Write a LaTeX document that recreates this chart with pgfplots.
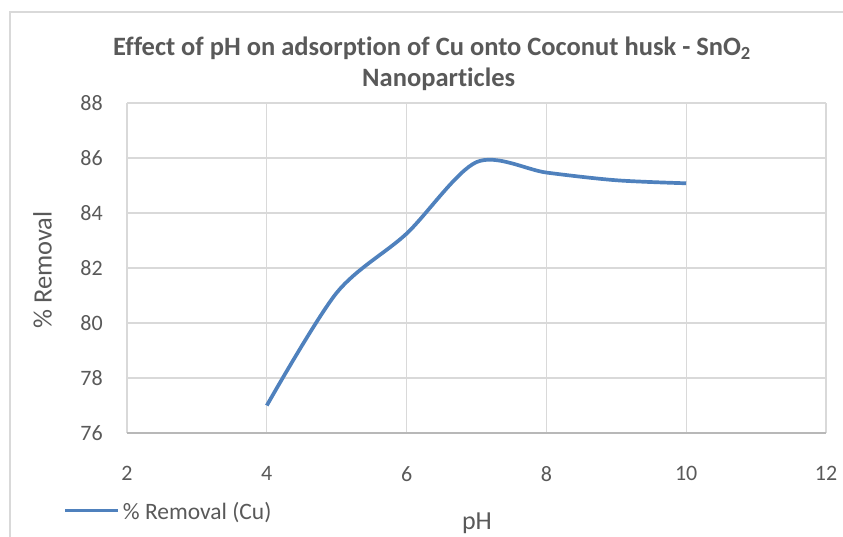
\documentclass[border=0pt]{standalone}
\usepackage{pgfplots}
\pgfplotsset{compat=1.18}
\usepackage{fontspec}
\setmainfont{Carlito}[Ligatures={NoCommon}]
\definecolor{exblue}{HTML}{4F81BD}
\definecolor{gridgray}{HTML}{D9D9D9}
\definecolor{txtgray}{HTML}{595959}
\begin{document}
\begin{tikzpicture}[x=1pt,y=1pt]
\path[use as bounding box] (0,0) rectangle (843,537);
\draw[gridgray, line width=2pt] (9.5,-20) -- (9.5,525) -- (870,525);
\begin{axis}[
  at={(127pt,104pt)}, anchor=south west,
  scale only axis, width=699pt, height=330pt,
  xmin=2, xmax=12, ymin=76, ymax=88,
  xtick={2,4,...,12}, ytick={76,78,...,88},
  grid=major,
  major grid style={gridgray, line width=1.3pt},
  axis line style={draw=none},
  axis x line*=bottom,
  axis y line*=left,
  x axis line style={draw=gridgray!85!black, line width=1.3pt},
  major tick length=0pt,
  tick label style={font=\fontsize{22}{24}\selectfont, text=txtgray, inner sep=0pt},
  /pgf/number format/assume math mode=true,
  xticklabel style={anchor=north, yshift=-33pt},
  yticklabel style={anchor=east, xshift=-24pt},
  clip=false,
]
\addplot[exblue, line width=3.7pt, smooth, tension=0.5] coordinates {
 (4,77.0) (5,81.1) (6,83.25) (7,85.85) (8,85.47) (9,85.19) (10,85.08)
};
\end{axis}
\node[font=\fontsize{26.5}{30}\selectfont\bfseries, text=txtgray, anchor=base, inner sep=0pt] at (432,481) {Effect of pH on adsorption of Cu onto Coconut husk - SnO\textsubscript{2}};
\node[font=\fontsize{26.5}{30}\selectfont\bfseries, text=txtgray, anchor=base, inner sep=0pt] at (438.7,450.3) {Nanoparticles};
\node[font=\fontsize{26.5}{30}\selectfont, text=txtgray, rotate=90, anchor=base, inner sep=0pt] at (51.7,267) {\% Removal};
\node[font=\fontsize{26}{30}\selectfont, text=txtgray, anchor=base, inner sep=0pt] at (477,7) {pH};
\draw[exblue, line width=3.4pt] (65,26.3) -- (118,26.3);
\node[font=\fontsize{23.5}{26}\selectfont, text=txtgray, anchor=base west, inner sep=0pt] at (122.7,17.7) {\% Removal (Cu)};
\end{tikzpicture}
\end{document}
